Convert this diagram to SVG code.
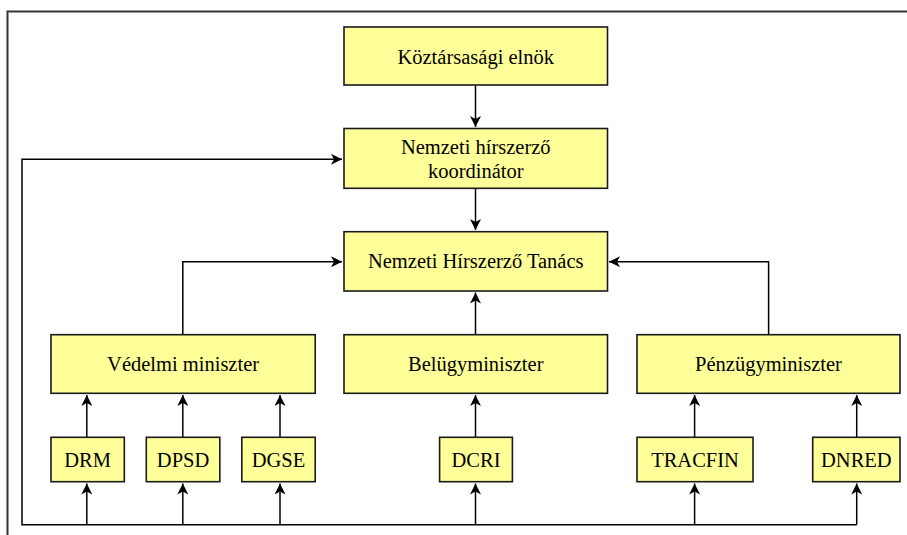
<svg xmlns="http://www.w3.org/2000/svg" width="907" height="535" viewBox="0 0 907 535">
<style>
.box{fill:#ffff99;stroke:#1a1a1a;stroke-width:1.6}
.t{font-family:'Liberation Serif','DejaVu Serif','Times New Roman',Times,serif;font-size:20.5px;fill:#000;text-anchor:middle}
.c{fill:none;stroke:#000;stroke-width:1.5}
</style>
<defs>
<marker id="ah" markerUnits="userSpaceOnUse" markerWidth="12" markerHeight="12" refX="11" refY="5.5" orient="auto">
<path d="M0,0 L11,5.5 L0,11 L3,5.5 z" fill="#000"/>
</marker>
</defs>
<rect width="907" height="535" fill="#fff"/>
<path d="M7.5,535 V11.5 H907" fill="none" stroke="#bbb" stroke-width="3"/>
<path d="M7.5,535 V11.5 H907" fill="none" stroke="#333" stroke-width="1.5"/>
<g id="connectors">
<path class="c" d="M475.5,85.5 V127" marker-end="url(#ah)"/>
<path class="c" d="M475.5,188.5 V230" marker-end="url(#ah)"/>
<path class="c" d="M856.7,524.7 H22 V159.3 H342" marker-end="url(#ah)"/>
<path class="c" d="M182.8,334.5 V261.7 H342" marker-end="url(#ah)"/>
<path class="c" d="M768.6,334.5 V261.7 H609" marker-end="url(#ah)"/>
<path class="c" d="M475.5,334.5 V292.5" marker-end="url(#ah)"/>
<path class="c" d="M86.8,437.3 V395" marker-end="url(#ah)"/>
<path class="c" d="M182.8,437.3 V395" marker-end="url(#ah)"/>
<path class="c" d="M280,437.3 V395" marker-end="url(#ah)"/>
<path class="c" d="M475.5,437.3 V395" marker-end="url(#ah)"/>
<path class="c" d="M694.6,437.3 V395" marker-end="url(#ah)"/>
<path class="c" d="M856.7,437.3 V395" marker-end="url(#ah)"/>
<path class="c" d="M86.8,524.7 V483.5" marker-end="url(#ah)"/>
<path class="c" d="M182.8,524.7 V483.5" marker-end="url(#ah)"/>
<path class="c" d="M280,524.7 V483.5" marker-end="url(#ah)"/>
<path class="c" d="M475.5,524.7 V483.5" marker-end="url(#ah)"/>
<path class="c" d="M694.6,524.7 V483.5" marker-end="url(#ah)"/>
<path class="c" d="M856.7,524.7 V483.5" marker-end="url(#ah)"/>
</g>
<g font-family="Liberation Serif, DejaVu Serif, serif">
<g id="elnok"><rect class="box" x="344" y="27" width="263.5" height="58"/><text class="t" x="475.75" y="63.5">Köztársasági elnök</text></g>
<g id="koordinator"><rect class="box" x="344" y="128.5" width="263.5" height="59.8"/><text class="t" x="475.75" y="153.5">Nemzeti hírszerző</text><text class="t" x="475.75" y="177.5">koordinátor</text></g>
<g id="tanacs"><rect class="box" x="344" y="231.7" width="263.5" height="59.3"/><text class="t" x="475.75" y="268">Nemzeti Hírszerző Tanács</text></g>
<g id="vedelmi"><rect class="box" x="51" y="334.7" width="264.2" height="58.6"/><text class="t" x="183.1" y="371">Védelmi miniszter</text></g>
<g id="belugy"><rect class="box" x="344" y="334.7" width="263.5" height="58.6"/><text class="t" x="475.75" y="371">Belügyminiszter</text></g>
<g id="penzugy"><rect class="box" x="637" y="334.7" width="263" height="58.6"/><text class="t" x="768.5" y="371">Pénzügyminiszter</text></g>
<g id="drm"><rect class="box" x="51" y="437.3" width="73.3" height="44.4"/><text class="t" x="87.65" y="466.7">DRM</text></g>
<g id="dpsd"><rect class="box" x="146.3" y="437.3" width="73.5" height="44.4"/><text class="t" x="183.05" y="466.7">DPSD</text></g>
<g id="dgse"><rect class="box" x="241.8" y="437.3" width="73.4" height="44.4"/><text class="t" x="278.5" y="466.7">DGSE</text></g>
<g id="dcri"><rect class="box" x="439.6" y="437.3" width="72.8" height="44.4"/><text class="t" x="476" y="466.7">DCRI</text></g>
<g id="tracfin"><rect class="box" x="637" y="437.3" width="116" height="44.4"/><text class="t" x="695" y="466.7">TRACFIN</text></g>
<g id="dnred"><rect class="box" x="812.7" y="437.3" width="87.3" height="44.4"/><text class="t" x="856.35" y="466.7">DNRED</text></g>
</g>
</svg>
